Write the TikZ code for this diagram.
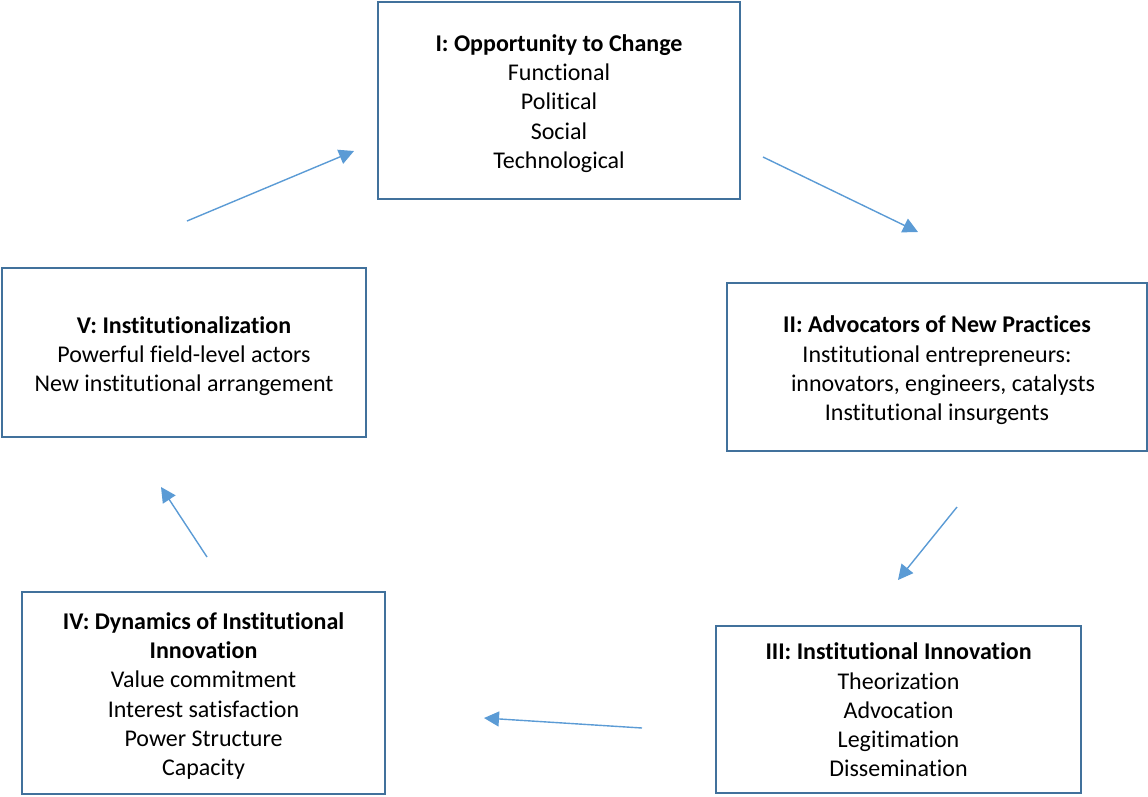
\documentclass[tikz,border=0pt]{standalone}
\usepackage{fontspec}
\setmainfont[Ligatures=NoCommon]{Carlito}
\usetikzlibrary{arrows.meta}
\definecolor{boxline}{HTML}{41719C}
\definecolor{arrowblue}{HTML}{5B9BD5}
\tikzset{
  stagebox/.style={draw=boxline, line width=2pt, inner sep=0pt},
  stagetext/.style={align=center, inner sep=0pt,
    font=\fontsize{24}{29.3}\selectfont, text=black},
  cyclearrow/.style={draw=arrowblue, line width=1.4pt,
    -{Triangle[length=15pt,width=15pt]}}
}
\begin{document}
\begin{tikzpicture}[x=1pt,y=-1pt]
\useasboundingbox (0,0) rectangle (1148,796);
\node[stagebox, minimum width=362pt, minimum height=197pt] (I) at (559,100.5) {};
\node[stagetext] (Itext) at ([yshift=-3pt]I.center)
  {\textbf{I: Opportunity to Change}\\Functional\\Political\\Social\\Technological};
\node[stagebox, minimum width=420pt, minimum height=168pt] (II) at (937,367) {};
\node[stagetext] (IItext) at ([yshift=-3.5pt]II.center)
  {\textbf{II: Advocators of New Practices}\\Institutional entrepreneurs:\\\hspace*{12pt}innovators, engineers, catalysts\\Institutional insurgents};
\node[stagebox, minimum width=365pt, minimum height=167pt] (III) at (898.5,709.5) {};
\node[stagetext] (IIItext) at ([yshift=-0.5pt]III.center)
  {\textbf{III: Institutional Innovation}\\Theorization\\Advocation\\Legitimation\\Dissemination};
\node[stagebox, minimum width=363pt, minimum height=202pt] (IV) at (203.5,693) {};
\node[stagetext] (IVtext) at ([yshift=-3pt]IV.center)
  {\textbf{IV: Dynamics of Institutional}\\\textbf{Innovation}\\Value commitment\\Interest satisfaction\\Power Structure\\Capacity};
\node[stagebox, minimum width=364pt, minimum height=169pt] (V) at (184,352.5) {};
\node[stagetext] (Vtext) at ([yshift=-3.5pt]V.center)
  {\textbf{V: Institutionalization}\\Powerful field-level actors\\New institutional arrangement};
\coordinate (a1s) at (187,221); \coordinate (a1e) at (354,151);
\coordinate (a2s) at (763,157); \coordinate (a2e) at (918,232);
\coordinate (a3s) at (957,507); \coordinate (a3e) at (898,580);
\coordinate (a4s) at (642,728); \coordinate (a4e) at (484,718);
\coordinate (a5s) at (207,557); \coordinate (a5e) at (161,487);
\draw[cyclearrow] (a1s) -- (a1e);
\draw[cyclearrow] (a2s) -- (a2e);
\draw[cyclearrow] (a3s) -- (a3e);
\draw[cyclearrow] (a4s) -- (a4e);
\draw[cyclearrow] (a5s) -- (a5e);
\end{tikzpicture}
\end{document}
